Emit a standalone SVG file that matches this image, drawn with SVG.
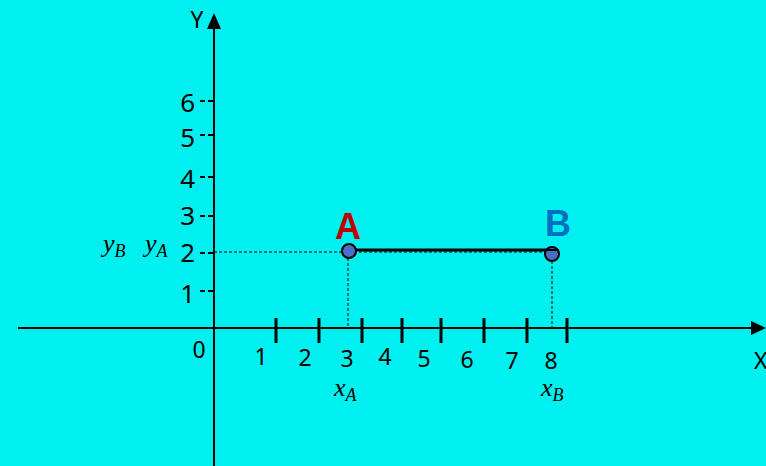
<svg xmlns="http://www.w3.org/2000/svg" width="766" height="466" viewBox="0 0 766 466">
<defs>
<style>
.ax{stroke:#000;stroke-width:2;fill:none}
.tk{stroke:#000;stroke-width:3}
.yt{stroke:#000;stroke-width:2;stroke-dasharray:5 3}
.dl{stroke:#000;stroke-width:1;stroke-dasharray:3 2;fill:none}
.n{font-family:"Noto Sans","Liberation Sans",sans-serif;font-size:23px;fill:#000}
.ny{font-size:26px}
.m{font-family:"Liberation Serif",serif;font-style:italic;font-size:26px;fill:#000}
.s{font-size:18px}
.pt{fill:#4A6FC8;stroke:#000;stroke-width:2}
.lb{font-family:"Liberation Sans",Arial,sans-serif;font-weight:bold;font-size:36px}
</style>
</defs>
<rect width="766" height="466" fill="#00F0F0"/>
<g id="axes">
<line class="ax" x1="214" y1="466" x2="214" y2="28"/>
<path d="M207,29 L214,13 L221,29 z" fill="#000"/>
<line class="ax" x1="18" y1="328" x2="752" y2="328"/>
<path d="M751,321 L766,328 L751,335 z" fill="#000"/>
<text class="n" x="197" y="28" text-anchor="middle" font-size="25">Y</text>
<text class="n" x="754" y="369" text-anchor="start" font-size="24">X</text>
<text class="n" x="199" y="358" text-anchor="middle">0</text>
</g>
<g id="y-ticks">
<line class="yt" x1="200" y1="101" x2="214" y2="101"/>
<line class="yt" x1="200" y1="135" x2="214" y2="135"/>
<line class="yt" x1="200" y1="177" x2="214" y2="177"/>
<line class="yt" x1="200" y1="216" x2="214" y2="216"/>
<line class="yt" x1="200" y1="253" x2="214" y2="253"/>
<line class="yt" x1="200" y1="291" x2="214" y2="291"/>
<text class="n ny" x="195" y="112" text-anchor="end">6</text>
<text class="n ny" x="195" y="147" text-anchor="end">5</text>
<text class="n ny" x="195" y="188" text-anchor="end">4</text>
<text class="n ny" x="195" y="225" text-anchor="end">3</text>
<text class="n ny" x="195" y="262" text-anchor="end">2</text>
<text class="n ny" x="195" y="303" text-anchor="end">1</text>
</g>
<g id="x-ticks">
<line class="tk" x1="276" y1="318" x2="276" y2="343"/>
<line class="tk" x1="319" y1="318" x2="319" y2="343"/>
<line class="tk" x1="362" y1="318" x2="362" y2="343"/>
<line class="tk" x1="402" y1="318" x2="402" y2="343"/>
<line class="tk" x1="441" y1="318" x2="441" y2="343"/>
<line class="tk" x1="484" y1="318" x2="484" y2="343"/>
<line class="tk" x1="527" y1="318" x2="527" y2="343"/>
<line class="tk" x1="567" y1="318" x2="567" y2="343"/>
<text class="n" x="261" y="365" text-anchor="middle">1</text>
<text class="n" x="305" y="366" text-anchor="middle">2</text>
<text class="n" x="347" y="367" text-anchor="middle">3</text>
<text class="n" x="385" y="365" text-anchor="middle">4</text>
<text class="n" x="424" y="367" text-anchor="middle">5</text>
<text class="n" x="467" y="368" text-anchor="middle">6</text>
<text class="n" x="512" y="369" text-anchor="middle">7</text>
<text class="n" x="551" y="369" text-anchor="middle">8</text>
</g>
<g id="math-labels">
<text class="m" x="334" y="396">x<tspan class="s" dy="5">A</tspan></text>
<text class="m" x="541" y="396">x<tspan class="s" dy="5">B</tspan></text>
<text class="m" x="103" y="252">y<tspan class="s" dy="5">B</tspan></text>
<text class="m" x="145" y="252">y<tspan class="s" dy="5">A</tspan></text>
</g>
<g id="connectors">
<line class="dl" x1="214" y1="252" x2="349" y2="252"/>
<line class="dl" x1="349" y1="252" x2="552" y2="252"/>
<line class="dl" x1="348" y1="258" x2="348" y2="328"/>
<line class="dl" x1="552" y1="261" x2="552" y2="328"/>
<line x1="349" y1="250" x2="552" y2="250" stroke="#000" stroke-width="3"/>
</g>
<g id="A">
<circle class="pt" cx="349" cy="251" r="7"/>
<text class="lb" x="348" y="239" text-anchor="middle" fill="#C00000">A</text>
</g>
<g id="B">
<circle class="pt" cx="552" cy="254" r="7"/>
<line x1="545" y1="250" x2="559" y2="250" stroke="#000" stroke-width="2"/>
<text class="lb" x="558" y="236" text-anchor="middle" fill="#0070C0">B</text>
</g>
</svg>
